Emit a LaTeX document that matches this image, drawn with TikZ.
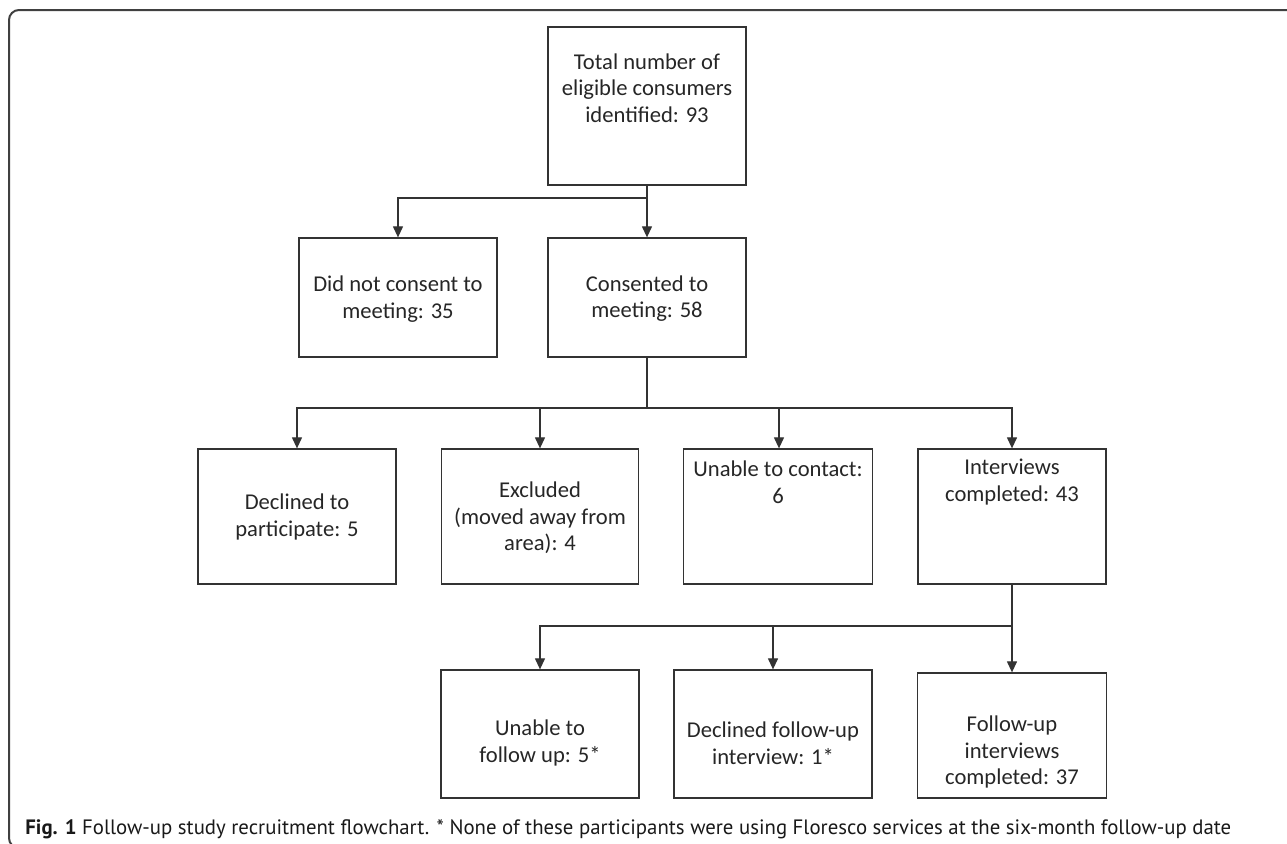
\documentclass[tikz,border=0pt]{standalone}
\usepackage{fontspec}
\setmainfont{Carlito}
\newfontfamily\capfont{PT Sans}
\usepackage{tikz}
\usetikzlibrary{arrows.meta}

\tikzset{
  box/.style={draw=black!80, line width=0.65pt, inner sep=0pt, minimum width=99pt},
  txt/.style={align=center, text=black!85, inner sep=0pt, font=\fontsize{11.3}{13.3}\selectfont},
  conn/.style={draw=black!80, line width=0.6pt},
  arr/.style={conn, -{Triangle[length=5.5pt,width=5pt]}},
  frame/.style={draw=black!75, line width=1pt, rounded corners=5pt},
}

\begin{document}
\begin{tikzpicture}[x=0.5pt, y=-0.5pt]
	\useasboundingbox (0,0) rectangle (1287,843);
	\draw[frame] (9,10) rectangle (1320,848);

	% level 1
	\node[box, minimum height=79pt] (total) at (647,106) {};
	\node[txt] (total-t) at (647,88) {Total number of\\eligible consumers\\identified: 93};

	% level 2
	\node[box, minimum height=59.5pt] (noconsent) at (398,297.5) {};
	\node[txt] (noconsent-t) at (398,299) {Did not consent to\\meeting: 35};
	\node[box, minimum height=59.5pt] (consent) at (647,297.5) {};
	\node[txt] (consent-t) at (647,298.5) {Consented to\\meeting: 58};

	% level 3
	\node[box, minimum height=67.5pt] (declined) at (297,516.5) {};
	\node[txt] (declined-t) at (297,517) {Declined to\\participate: 5};
	\node[box, minimum width=98.5pt, minimum height=67.5pt] (excluded) at (540,516.5) {};
	\node[txt] (excluded-t) at (540,518) {Excluded\\(moved away from\\area): 4};
	\node[box, minimum width=94.5pt, minimum height=67.5pt] (contact) at (778,516.5) {};
	\node[txt] (contact-t) at (778,482) {Unable to contact:\\6};
	\node[box, minimum width=94pt, minimum height=67.5pt] (interviews) at (1012,516.5) {};
	\node[txt] (interviews-t) at (1012,482) {Interviews\\completed: 43};

	% level 4
	\node[box, minimum height=64pt] (nofollow) at (540,734) {};
	\node[txt] (nofollow-t) at (540,743) {Unable to\\follow up: 5*};
	\node[box, minimum height=64pt] (declinedfu) at (773,734) {};
	\node[txt] (declinedfu-t) at (773,743) {Declined follow-up\\interview: 1*};
	\node[box, minimum width=94.5pt, minimum height=62.5pt] (fudone) at (1012,735.5) {};
	\node[txt] (fudone-t) at (1012,752) {Follow-up\\interviews\\completed: 37};

	% connectors
	\coordinate (j1) at (647,198);
	\coordinate (j2) at (647,408);
	\coordinate (j3) at (1012,626);

	\draw[arr] (total.south) -- (consent.north);
	\draw[arr] (j1) -| (noconsent.north);

	\draw[conn] (consent.south) -- (j2);
	\draw[arr] (j2) -| (declined.north);
	\draw[arr] (j2) -| (excluded.north);
	\draw[arr] (j2) -| ([xshift=0.5pt]contact.north);
	\draw[arr] (j2) -| (interviews.north);

	\draw[conn] (interviews.south) -- (j3);
	\draw[arr] (j3) -| (nofollow.north);
	\draw[arr] (j3) -| (declinedfu.north);
	\draw[arr] (j3) -- (fudone.north);

	% caption
	\node[anchor=base west, inner sep=0pt, text=black!90, font=\capfont\fontsize{10.4}{12}\selectfont] (caption) at (25,834)
		{\textbf{Fig. 1} Follow-up study recruitment flowchart. * None of these participants were using Floresco services at the six-month follow-up date};
\end{tikzpicture}
\end{document}
